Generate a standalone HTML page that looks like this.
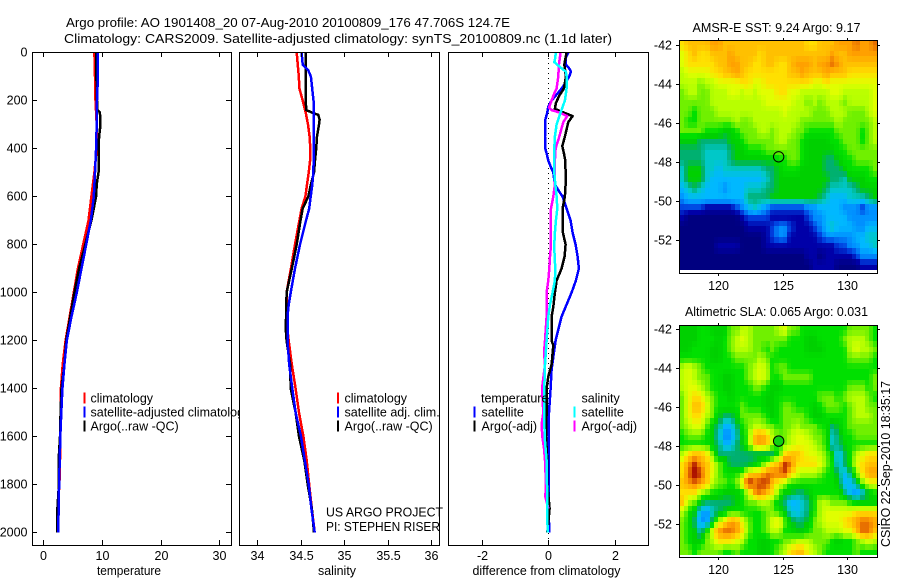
<!DOCTYPE html>
<html lang="en">
<head>
<meta charset="utf-8">
<title>Argo profile chart</title>
<style>
html,body{margin:0;padding:0;background:#fff;}
svg{display:block;}
text{font-family:"Liberation Sans",sans-serif;fill:#000;font-size:12.5px;}
</style>
</head>
<body>
<svg id="chart" xmlns="http://www.w3.org/2000/svg" width="900" height="580" viewBox="0 0 900 580">
  <rect x="0" y="0" width="900" height="580" fill="#fff"/>
  <g id="panels"></g>
  <g id="maps"></g>
  <g id="labels">
    <text x="66" y="27" font-size="13" textLength="444" lengthAdjust="spacingAndGlyphs" style="font-size:13px">Argo profile: AO 1901408_20 07-Aug-2010 20100809_176 47.706S 124.7E</text>
    <text x="64" y="43" font-size="13" textLength="548" lengthAdjust="spacingAndGlyphs" style="font-size:13px">Climatology: CARS2009. Satellite-adjusted climatology: synTS_20100809.nc (1.1d later)</text>
    <text x="97" y="575" textLength="64" lengthAdjust="spacingAndGlyphs">temperature</text>
    <text x="318" y="575" textLength="38" lengthAdjust="spacingAndGlyphs">salinity</text>
    <text x="472.5" y="575" textLength="148" lengthAdjust="spacingAndGlyphs">difference from climatology</text>
    <text x="326" y="516.5" textLength="117" lengthAdjust="spacingAndGlyphs">US ARGO PROJECT</text>
    <text x="326" y="531" textLength="114" lengthAdjust="spacingAndGlyphs">PI: STEPHEN RISER</text>
    <text x="692.5" y="32" textLength="168" lengthAdjust="spacingAndGlyphs">AMSR-E SST: 9.24 Argo: 9.17</text>
    <text x="685" y="316" textLength="183" lengthAdjust="spacingAndGlyphs">Altimetric SLA: 0.065 Argo: 0.031</text>
    <text transform="translate(890,547) rotate(-90)" textLength="166" lengthAdjust="spacingAndGlyphs">CSIRO 22-Sep-2010 18:35:17</text>
  </g>
</svg>
<script>
/* ---------- category / tick arrays ---------- */
const depthTicks = [0,200,400,600,800,1000,1200,1400,1600,1800,2000];
const tempTicks = [0,10,20,30];
const salTicks = [34,34.5,35,35.5,36];
const salTickLabels = ['34','34.5','35','35.5','36'];
const diffTicks = [-2,0,2];
const lonTicks = [120,125,130];
const latTicks = [-42,-44,-46,-48,-50,-52];

/* ---------- temperature profiles ---------- */
const stdDepth = [0,100,200,300,400,500,600,700,800,900,1000,1100,1200,1300,1400,1500,1600,1700,1800,1900,2000];
const tempClim = [8.7,8.8,8.9,9.1,9.1,8.7,8.2,7.7,6.8,5.9,5.2,4.5,3.8,3.3,3.0,2.95,2.9,2.85,2.75,2.45,2.45];
const tempSat = [9.25,9.3,9.15,9.1,9.0,8.8,8.6,8.1,7.3,6.5,5.7,4.8,4.0,3.6,3.25,3.07,2.9,2.8,2.7,2.6,2.55];
const tempArgoDepth = [0,100,200,240,250,300,350,400,500,550,600,700,800,900,1000,1100,1200,1300,1400,1500,1600,1700,1800,1900,2000];
const tempArgo = [9.0,9.05,9.15,9.2,9.65,9.75,9.5,9.4,9.4,9.1,9.0,8.2,7.15,6.1,5.3,4.6,3.9,3.6,3.1,2.95,2.85,2.6,2.65,2.4,2.4];

/* ---------- salinity profiles ---------- */
const salClimDepth = [0,100,150,200,250,300,350,400,450,500,550,600,650,700,800,900,1000,1100,1150,1200,1300,1400,1500,1600,1700,1800,1900,2000];
const salClim = [34.456,34.48,34.487,34.525,34.56,34.586,34.605,34.613,34.61,34.594,34.575,34.556,34.513,34.487,34.437,34.39,34.34,34.34,34.348,34.364,34.40,34.444,34.483,34.533,34.571,34.6,34.63,34.663];
const salSatDepth = [0,50,60,75,100,150,200,300,400,500,550,600,650,700,800,900,1000,1050,1100,1200,1300,1400,1500,1600,1700,1800,1900,2000];
const salSat = [34.513,34.525,34.55,34.59,34.62,34.635,34.65,34.65,34.655,34.647,34.636,34.617,34.6,34.563,34.494,34.437,34.387,34.364,34.35,34.35,34.37,34.406,34.444,34.506,34.55,34.594,34.625,34.663];
const salArgoDepth = [0,100,200,240,250,260,280,300,350,400,450,500,550,600,650,700,800,900,1000,1100,1150,1200,1300,1400,1500,1600,1700,1800,1900,2000];
const salArgo = [34.56,34.56,34.56,34.567,34.63,34.705,34.72,34.713,34.69,34.68,34.667,34.655,34.62,34.59,34.525,34.5,34.456,34.4,34.34,34.335,34.33,34.34,34.38,34.387,34.444,34.483,34.544,34.583,34.63,34.655];

/* ---------- differences from climatology ---------- */
const diffTempSatDepth = [0,20,50,70,80,100,130,150,200,225,250,280,300,350,400,420,450,475,500,550,580,600,650,700,750,800,850,900,950,1000,1050,1100,1200,1320,1400,1500,1600,1700,1800,1900,2000];
const diffTempSat = [0.6,0.53,0.53,0.65,0.68,0.63,0.5,0.4,0.1,0,-0.03,-0.09,-0.1,-0.1,-0.09,-0.05,0,0.07,0.15,0.2,0.33,0.43,0.55,0.67,0.73,0.82,0.88,0.92,0.83,0.7,0.55,0.4,0.22,0.1,0.07,0.02,0.01,0.01,0.01,0.01,0.03];
const diffTempArgoDepth = [0,50,100,150,180,210,235,245,265,290,350,390,420,450,500,550,600,650,700,750,800,850,900,950,1000,1060,1100,1200,1220,1300,1350,1400,1500,1600,1700,1800,1900,2000];
const diffTempArgo = [0.55,0.48,0.53,0.47,0.33,0.23,0.2,0.37,0.73,0.6,0.5,0.42,0.47,0.51,0.52,0.52,0.5,0.43,0.43,0.44,0.52,0.49,0.4,0.25,0.2,0.15,0.1,0.1,0.15,0.1,0,-0.05,-0.05,-0.07,-0.03,-0.03,0.04,-0.03];
const diffSalSatDepth = [0,30,40,60,80,100,150,200,250,300,350,400,450,500,550,600,650,700,750,800,850,900,950,1000,1050,1100,1200,1300,1400,1500,1600,1700,1800,1900,2000];
const diffSalSat = [0.23,0.2,0.18,0.35,0.53,0.55,0.55,0.5,0.37,0.25,0.2,0.18,0.18,0.18,0.21,0.25,0.27,0.23,0.2,0.18,0.19,0.21,0.2,0.13,0.05,0,-0.05,-0.1,-0.12,-0.12,-0.11,-0.05,-0.04,-0.03,-0.02];
const diffSalArgoDepth = [0,50,100,150,170,200,230,240,250,265,290,350,400,450,500,550,600,650,700,800,850,900,950,1000,1050,1100,1200,1250,1300,1400,1500,1550,1600,1650,1700,1800,1850,1900];
const diffSalArgo = [0.37,0.32,0.3,0.25,0.18,0.1,0.02,0.1,0.33,0.57,0.45,0.33,0.22,0.2,0.2,0.2,0.15,0.08,0.07,0.08,0.05,0.03,0,-0.05,-0.05,-0.05,-0.1,-0.13,-0.1,-0.19,-0.15,-0.2,-0.18,-0.13,-0.1,-0.07,-0.09,0];

/* ---------- legend labels ---------- */
const legend1Labels = ['climatology','satellite-adjusted climatology','Argo(..raw -QC)'];
const legend2Labels = ['climatology','satellite adj. clim.','Argo(..raw -QC)'];
const legend3TempLabels = ['satellite','Argo(-adj)'];
const legend3SalLabels = ['satellite','Argo(-adj)'];

/* ---------- map fields (colour levels 0 navy ... 17 dark red) ---------- */
const sstGrid = [
[12,13,13,13,13, 14,14,13,13,13, 13,13,13,13,13, 13,13,13,13,13, 13,12,12,13,13, 13,14,14,14,15, 14,14,15],
[11,12,13,12,12, 13,13,13,14,13, 13,13,13,12,13, 13,13,13,13,13, 13,13,13,13,13, 14,13,13,14,14, 14,14,14],
[11,12,12,12,12, 12,13,13,14,14, 13,13,12,12,13, 13,12,12,13,14, 14,14,13,14,14, 15,14,13,13,13, 13,13,13],
[10,11,11,11,11, 12,12,13,13,14, 13,12,12,12,12, 12,12,12,13,13, 14,13,13,13,14, 13,13,13,12,12, 12,12,12],
[10,10,10,9,10, 10,11,11,11,11, 12,12,11,11,12, 12,12,12,12,12, 12,12,11,11,12, 11,11,11,11,11, 11,11,11],
[9,10,10,9,9, 10,10,10,11,11, 10,11,10,11,11, 11,12,12,11,11, 10,10,10,10,10, 11,11,10,10,10, 10,10,11],
[9,9,9,9,9, 10,10,10,10,10, 10,10,10,10,11, 11,11,11,11,10, 10,9,10,9,10, 10,10,9,10,10, 10,10,11],
[9,9,8,9,9, 9,10,10,10,10, 10,10,10,10,10, 10,10,11,10,10, 10,10,9,9,9, 10,10,10,9,9, 9,10,11],
[9,8,8,9,9, 9,9,9,9,10, 9,9,10,10,10, 10,10,10,10,10, 9,9,9,9,9, 9,10,9,9,9, 9,9,10],
[9,9,9,9,8, 8,8,7,7,8, 9,9,9,10,10, 9,10,10,10,9, 9,8,8,8,8, 8,9,9,9,9, 8,9,10],
[7,7,7,6,6, 6,6,6,7,7, 8,9,9,9,9, 9,10,10,9,9, 8,7,7,7,7, 8,8,9,9,9, 8,9,10],
[6,6,6,6,5, 5,5,5,6,7, 7,8,8,8,9, 9,9,9,9,9, 8,7,7,7,7, 7,8,8,9,9, 9,9,9],
[6,6,6,6,5, 5,5,5,6,7, 7,7,7,7,7, 7,8,8,9,9, 8,7,7,7,6, 6,7,8,8,9, 9,9,9],
[5,7,7,7,5, 5,4,5,5,5, 5,5,5,5,6, 6,7,8,8,8, 7,7,7,7,6, 6,6,7,8,8, 8,8,9],
[5,7,7,7,5, 4,4,4,4,4, 4,4,4,4,5, 6,7,7,7,7, 7,7,7,7,7, 6,6,5,7,7, 7,8,8],
[4,5,6,5,4, 4,4,3,4,4, 4,5,5,5,6, 6,7,7,7,7, 7,7,7,7,6, 5,5,5,5,6, 7,7,7],
[3,4,4,4,4, 4,4,4,4,4, 4,6,6,6,6, 7,7,7,7,7, 7,7,7,6,5, 4,4,4,5,5, 5,6,7],
[2,2,2,2,1, 1,1,1,1,2, 3,4,5,4,3, 2,2,2,2,2, 2,3,3,4,4, 4,4,3,3,3, 2,3,3],
[1,0,0,0,0, 0,0,0,0,0, 1,2,2,2,2, 1,1,1,1,1, 1,2,3,3,4, 4,4,4,3,3, 3,3,3],
[0,0,0,0,0, 0,0,0,0,0, 0,1,1,1,1, 2,3,3,2,1, 1,1,2,3,4, 5,4,4,4,3, 3,4,4],
[0,0,0,0,0, 0,0,0,0,0, 0,0,0,0,1, 2,3,3,1,1, 1,1,1,2,3, 3,3,3,3,4, 4,5,5],
[0,0,0,0,0, 0,1,1,1,1, 0,0,0,0,1, 1,1,1,1,1, 1,1,1,1,1, 1,2,2,3,3, 4,4,5],
[0,0,0,0,0, 0,0,0,0,0, 0,0,0,0,0, 0,0,0,0,0, 0,1,1,0,1, 1,1,1,1,2, 3,3,3],
[0,0,0,0,0, 0,0,0,0,0, 0,0,0,0,0, 0,0,0,0,0, 0,0,1,1,1, 1,0,0,0,0, 1,1,1]
];
const slaGrid = [
[7,7,7,8,8, 7,7,7,9,9, 10,10,9,9,9, 9,10,11,9,9, 8,8,8,8,8, 8,8,8,9,9, 9,9,8],
[7,7,7,8,8, 8,7,8,9,10, 11,10,9,9,9, 9,9,9,8,8, 8,7,7,8,8, 8,8,9,10,10, 10,9,8],
[7,7,8,8,8, 7,7,8,9,10, 10,10,9,9,8, 9,8,8,8,8, 8,7,7,7,8, 8,8,8,10,11, 10,10,9],
[8,8,8,8,8, 7,7,8,8,9, 9,9,9,10,9, 8,8,8,8,8, 8,8,8,8,8, 8,8,8,9,9, 9,9,8],
[10,11,10,9,8, 8,8,8,8,8, 8,9,10,11,10, 8,9,9,8,8, 8,8,8,8,8, 8,8,8,8,8, 8,8,8],
[10,11,10,9,9, 8,8,7,7,8, 8,9,10,11,10, 8,8,9,9,9, 9,9,8,8,8, 8,8,8,8,8, 8,8,9],
[10,11,11,10,9, 8,8,7,7,8, 8,8,9,9,8, 7,7,8,8,8, 8,8,8,8,8, 8,8,8,9,9, 9,8,9],
[9,11,12,12,10, 9,8,8,7,8, 8,8,8,8,7, 7,8,8,8,8, 8,8,8,9,9, 9,8,9,10,10, 10,9,8],
[9,11,13,13,11, 9,8,8,8,8, 9,8,8,8,7, 7,8,9,9,8, 8,8,7,8,9, 9,9,8,9,10, 10,9,9],
[9,11,12,12,10, 9,7,6,6,7, 9,9,9,9,8, 7,8,9,9,9, 9,8,7,7,8, 8,8,8,9,10, 10,10,9],
[9,10,11,11,9, 7,6,4,4,6, 8,9,10,10,9, 9,8,9,9,10, 9,9,9,8,8, 6,7,8,9,9, 9,9,9],
[8,9,9,9,8, 7,5,3,3,5, 7,9,13,14,13, 10,9,9,10,11, 11,10,9,9,8, 5,6,8,8,9, 9,9,9],
[8,8,8,8,8, 7,6,4,4,6, 7,9,13,14,13, 10,8,9,10,11, 11,11,10,9,8, 5,6,7,8,8, 8,8,8],
[10,12,13,13,12, 9,6,6,6,6, 6,6,6,6,6, 6,8,12,13,13, 12,11,11,10,9, 7,4,6,8,10, 11,12,12],
[12,14,16,14,13, 11,9,8,6,6, 6,6,7,8,10, 12,13,16,15,12, 12,12,12,11,9, 8,4,6,8,11, 12,13,13],
[12,15,17,16,13, 11,9,8,8,8, 9,12,13,13,15, 15,15,16,13,11, 10,10,10,9,8, 8,6,4,6,9, 12,14,14],
[13,14,15,14,13, 10,9,9,8,9, 12,17,15,16,16, 13,11,10,8,8, 8,8,8,8,8, 8,7,4,4,6, 9,11,11],
[12,12,12,10,9, 8,8,7,7,7, 8,10,14,15,13, 12,9,7,7,6, 6,7,8,8,8, 8,8,6,4,3, 5,7,8],
[13,10,9,7,6, 6,6,6,6,7, 8,9,9,10,10, 9,7,6,4,4, 5,6,8,10,10, 9,9,9,8,7, 7,7,7],
[10,8,7,4,3, 5,6,7,8,8, 8,8,8,8,9, 9,8,7,5,4, 5,6,8,10,11, 11,11,11,11,12, 12,12,12],
[9,8,6,3,3, 7,10,12,14,14, 11,9,8,8,9, 11,12,9,7,6, 6,7,9,10,11, 11,11,12,13,14, 15,15,14],
[9,8,7,5,8, 11,14,15,15,14, 12,9,8,8,9, 10,10,8,8,7, 7,8,9,9,10, 10,10,11,11,13, 15,15,13],
[9,8,7,7,9, 10,12,12,12,11, 10,8,8,7,7, 8,8,9,9,10, 10,10,9,9,9, 8,7,8,8,9, 10,11,10],
[9,9,8,9,9, 9,9,8,8,9, 8,8,8,7,7, 8,9,10,12,13, 13,11,10,9,8, 8,8,8,8,9, 8,8,8]
];
const levelColors = ['#000080','#0000a8','#0040e0','#0090ff','#00b8ff','#00c8c8','#00b070','#00d000','#00e000','#70f000','#b8ff00','#e0ff00','#ffe000','#ffc000','#ffa000','#e87000','#c03000','#a00000'];

/* ---------- helpers ---------- */
const NS = 'http://www.w3.org/2000/svg';
const panelsG = document.getElementById('panels');
const mapsG = document.getElementById('maps');
function mk(tag, attrs, parent, txt){
  const n = document.createElementNS(NS, tag);
  for (const k in attrs) n.setAttribute(k, attrs[k]);
  if (txt !== undefined) n.textContent = txt;
  parent.appendChild(n);
  return n;
}
function depthY(d){ return 52.5 + 0.24 * d; }
function tempX(t){ return 43.3 + 5.87 * t; }
function salX(s){ return 257 + 87 * (s - 34); }
function diffX(v){ return 548.3 + 33.25 * v; }

function drawFrame(x0, x1, y0, y1, name, parent){
  const r = mk('rect', {x:x0+0.5, y:y0+0.5, width:x1-x0, height:y1-y0, fill:'none', stroke:'#000', 'stroke-width':1, 'shape-rendering':'crispEdges'}, parent);
  
  
}
function tickLine(x1, y1, x2, y2, parent){
  const t = mk('line', {x1:x1, y1:y1, x2:x2, y2:y2, stroke:'#000', 'stroke-width':1, 'shape-rendering':'crispEdges'}, parent);
  
  
}
function tickText(x, y, anchor, s, parent){
  const t = mk('text', {x:x, y:y, 'text-anchor':anchor}, parent, s);
  
  
}
function drawProfile(depths, values, xFn, color, name, parent, width){
  const pts = depths.map((d, i) => xFn(values[i]).toFixed(1) + ',' + depthY(d).toFixed(1)).join(' ');
  const p = mk('polyline', {points:pts, fill:'none', stroke:color, 'stroke-width':width || 2.5, 'shape-rendering':'crispEdges', 'stroke-linejoin':'round'}, parent);
  
  
}
function drawLegendRow(barX, textX, y, color, label, parent){
  if (color) {
    const b = mk('rect', {x:barX, y:y-5.5, width:2, height:11, fill:color, 'shape-rendering':'crispEdges'}, parent);
    
    
  }
  const t = mk('text', {x:textX, y:y+4.5}, parent, label);
  
  
}
function panelBase(x0, x1, name){
  const bg = mk('rect', {x:x0, y:52, width:x1-x0+1, height:494, fill:'#fff'}, panelsG);
  
  
}

/* ---------- temperature panel ---------- */
panelBase(32, 231, 'temperature-panel');
drawProfile(stdDepth, tempClim, tempX, '#ff0000', 'temperature-climatology-line', panelsG);
drawProfile(tempArgoDepth, tempArgo, tempX, '#000000', 'temperature-argo-line', panelsG);
drawProfile(stdDepth, tempSat, tempX, '#0000ff', 'temperature-satellite-line', panelsG);
drawFrame(32, 231, 52, 545, 'temperature-panel-frame', panelsG);
depthTicks.forEach(d => {
  const y = Math.floor(depthY(d)) + 0.5;
  tickText(27.5, y + 4, 'end', String(d), panelsG);
  if (d > 0) {
    tickLine(32, y, 37, y, panelsG);
    tickLine(226, y, 231, y, panelsG);
  }
});
tempTicks.forEach(v => {
  const x = Math.round(tempX(v)) + 0.5;
  tickLine(x, 52, x, 57, panelsG);
  tickLine(x, 540, x, 545, panelsG);
  tickText(x, 560, 'middle', String(v), panelsG);
});
drawLegendRow(83.5, 90.5, 398, '#ff0000', legend1Labels[0], panelsG);
drawLegendRow(83.5, 90.5, 412, '#0000ff', legend1Labels[1], panelsG);
drawLegendRow(83.5, 90.5, 426, '#000000', legend1Labels[2], panelsG);

/* ---------- salinity panel ---------- */
panelBase(239, 439, 'salinity-panel');
drawProfile(salClimDepth, salClim, salX, '#ff0000', 'salinity-climatology-line', panelsG);
drawProfile(salArgoDepth, salArgo, salX, '#000000', 'salinity-argo-line', panelsG);
drawProfile(salSatDepth, salSat, salX, '#0000ff', 'salinity-satellite-line', panelsG);
drawFrame(239, 439, 52, 545, 'salinity-panel-frame', panelsG);
salTicks.forEach((v, i) => {
  const x = Math.round(salX(v)) + 0.5;
  tickLine(x, 52, x, 57, panelsG);
  tickLine(x, 540, x, 545, panelsG);
  tickText(x, 560, 'middle', salTickLabels[i], panelsG);
});
drawLegendRow(337, 344.5, 398, '#ff0000', legend2Labels[0], panelsG);
drawLegendRow(337, 344.5, 412, '#0000ff', legend2Labels[1], panelsG);
drawLegendRow(337, 344.5, 426, '#000000', legend2Labels[2], panelsG);

/* ---------- difference panel ---------- */
panelBase(448, 648, 'difference-panel');
const zeroLine = mk('line', {x1:548.5, y1:53, x2:548.5, y2:545, stroke:'#000', 'stroke-width':1, 'stroke-dasharray':'1 4', 'shape-rendering':'crispEdges'}, panelsG);


drawProfile(diffTempSatDepth, diffTempSat, diffX, '#0000ff', 'difference-temperature-satellite-line', panelsG);
drawProfile(diffTempArgoDepth, diffTempArgo, diffX, '#000000', 'difference-temperature-argo-line', panelsG);
drawProfile(diffSalArgoDepth, diffSalArgo, diffX, '#ff00ff', 'difference-salinity-argo-line', panelsG);
drawProfile(diffSalSatDepth, diffSalSat, diffX, '#00ffff', 'difference-salinity-satellite-line', panelsG);
drawFrame(448, 648, 52, 545, 'difference-panel-frame', panelsG);
diffTicks.forEach(v => {
  const x = Math.round(diffX(v)) + 0.5;
  tickLine(x, 52, x, 57, panelsG);
  tickLine(x, 540, x, 545, panelsG);
  tickText(x, 560, 'middle', v < 0 ? '-' + Math.abs(v) : String(v), panelsG);
});
drawLegendRow(0, 481, 398, null, 'temperature', panelsG);
drawLegendRow(473.5, 481.5, 412, '#0000ff', legend3TempLabels[0], panelsG);
drawLegendRow(473.5, 481.5, 426, '#000000', legend3TempLabels[1], panelsG);
drawLegendRow(0, 581.5, 398, null, 'salinity', panelsG);
drawLegendRow(573.5, 581.5, 412, '#00ffff', legend3SalLabels[0], panelsG);
drawLegendRow(573.5, 581.5, 426, '#ff00ff', legend3SalLabels[1], panelsG);

/* ---------- maps ---------- */
function lonX(lon){ return 717.7 + 12.97 * (lon - 120); }
/* Continuous colour lookup so the raster shades smoothly between levels. */
function levelColor(v){
  const k = Math.max(0, Math.min(levelColors.length - 1.001, v));
  const i = Math.floor(k), f = k - i;
  const a = levelColors[i], b = levelColors[i + 1];
  const ch = p => Math.round(parseInt(a.substr(p, 2), 16) * (1 - f) + parseInt(b.substr(p, 2), 16) * f);
  return 'rgb(' + ch(1) + ',' + ch(3) + ',' + ch(5) + ')';
}
/* Bilinear read of a grid at fractional position, used when painting raster pixels. */
function sampleGrid(grid, u, v){
  const rows = grid.length, cols = grid[0].length;
  const gx = Math.max(0, Math.min(cols - 1, u * cols - 0.5));
  const gy = Math.max(0, Math.min(rows - 1, v * rows - 0.5));
  const i = Math.floor(gx), j = Math.floor(gy);
  const i2 = Math.min(cols - 1, i + 1), j2 = Math.min(rows - 1, j + 1);
  const fx = gx - i, fy = gy - j;
  return (grid[j][i] * (1 - fx) + grid[j][i2] * fx) * (1 - fy) + (grid[j2][i] * (1 - fx) + grid[j2][i2] * fx) * fy;
}
function drawMap(grid, lat42Y, imgTop, imgBottom, frameTop, frameBottom, name, labelY){
  const latY = lat => lat42Y + 19.5 * (-42 - lat);
  const rasterCols = 46;
  const rasterRows = 42;
  const left = 679.5, right = 877.5;
  for (let j = 0; j < rasterRows; j++) {
    for (let i = 0; i < rasterCols; i++) {
      const x0 = Math.round(left + (right - left) * i / rasterCols);
      const x1 = Math.round(left + (right - left) * (i + 1) / rasterCols);
      const y0 = Math.round(imgTop + (imgBottom - imgTop) * j / rasterRows);
      const y1 = Math.round(imgTop + (imgBottom - imgTop) * (j + 1) / rasterRows);
      const val = sampleGrid(grid, (i + 0.5) / rasterCols, (j + 0.5) / rasterRows);
      const c = mk('rect', {x:x0, y:y0, width:x1-x0, height:y1-y0, fill:levelColor(val), 'shape-rendering':'crispEdges'}, mapsG);
      
      
    }
  }
  drawFrame(679, 877, frameTop, frameBottom, name + '-frame', mapsG);
  lonTicks.forEach(lon => {
    const x = Math.round(lonX(lon)) + 0.5;
    tickLine(x, frameTop - 2, x, frameTop, mapsG);
    tickLine(x, frameBottom, x, frameBottom + 3, mapsG);
    tickText(x, labelY, 'middle', String(lon), mapsG);
  });
  latTicks.forEach(lat => {
    const y = Math.floor(latY(lat)) + 0.5;
    tickLine(676, y, 679, y, mapsG);
    tickLine(877, y, 880, y, mapsG);
    tickText(672, y + 4.2, 'end', String(lat), mapsG);
  });
  return latY;
}
const sstLatY = drawMap(sstGrid, 45.5, 40, 270, 40, 273, 'sst-map', 290);
const slaLatY = drawMap(slaGrid, 329.8, 325, 555, 325, 557, 'sla-map', 574);

const floatLon = 124.7;
const floatLat = -47.706;
const sstMarker = mk('circle', {cx:lonX(floatLon), cy:sstLatY(floatLat), r:5.2, fill:'none', stroke:'#000', 'stroke-width':1}, mapsG);


const slaMarker = mk('circle', {cx:lonX(floatLon), cy:slaLatY(floatLat), r:5.2, fill:'#10d010', stroke:'#000', 'stroke-width':1}, mapsG);


</script>
</body>
</html>
